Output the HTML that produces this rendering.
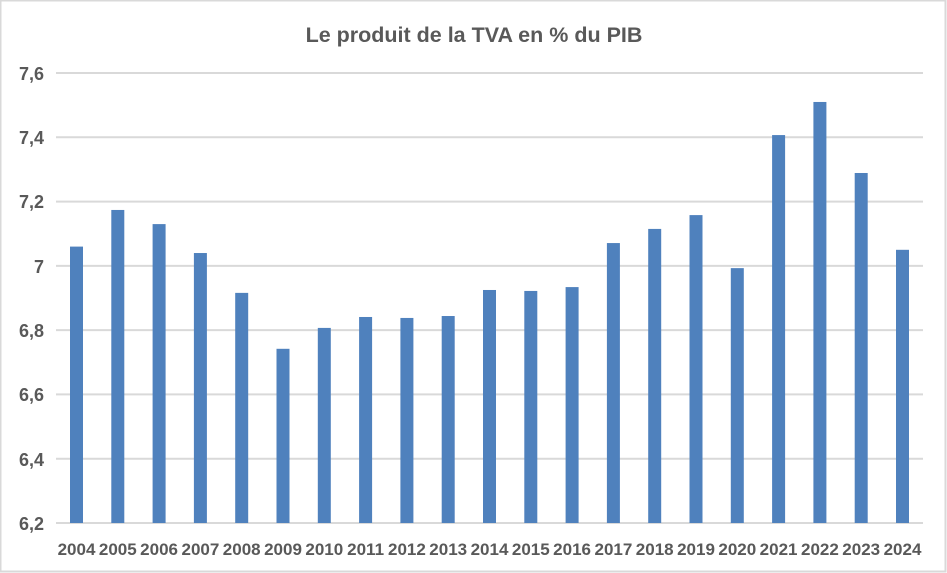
<!DOCTYPE html><html><head><style>body{margin:0;background:#fff}svg{display:block}</style></head><body>
<svg width="947" height="573" xmlns="http://www.w3.org/2000/svg" font-family="Liberation Sans, sans-serif">
<rect x="0.5" y="0.5" width="945" height="571" fill="#fff" stroke="#d9d9d9" stroke-width="2"/>
<text x="474" y="42" text-anchor="middle" font-size="21.5" font-weight="bold" fill="#595959">Le produit de la TVA en % du PIB</text>
<g stroke="#d9d9d9" stroke-width="2">
<line x1="56" x2="923" y1="73" y2="73"/><line x1="56" x2="923" y1="137.3" y2="137.3"/><line x1="56" x2="923" y1="201.6" y2="201.6"/><line x1="56" x2="923" y1="265.9" y2="265.9"/><line x1="56" x2="923" y1="330.1" y2="330.1"/><line x1="56" x2="923" y1="394.4" y2="394.4"/><line x1="56" x2="923" y1="458.7" y2="458.7"/><line x1="56" x2="923" y1="523" y2="523"/>
</g>
<g font-size="18" font-weight="bold" fill="#595959" text-anchor="end">
<text x="44" y="80">7,6</text><text x="44" y="144">7,4</text><text x="44" y="208">7,2</text><text x="44" y="273">7</text><text x="44" y="337">6,8</text><text x="44" y="401">6,6</text><text x="44" y="466">6,4</text><text x="44" y="530">6,2</text>
</g>
<g id="bars" fill="#4f81bd"></g>
<g id="lbl" font-size="17" font-weight="bold" fill="#595959" text-anchor="middle"></g>
<script>
var v=[7.06,7.174,7.13,7.04,6.916,6.742,6.807,6.841,6.838,6.844,6.925,6.922,6.934,7.071,7.115,7.158,6.993,7.407,7.51,7.289,7.05];
var b=document.getElementById('bars'),l=document.getElementById('lbl'),ns='http://www.w3.org/2000/svg';
v.forEach(function(d,i){var x=70+i*41.3,y=523-(d-6.2)*321.4;
var r=document.createElementNS(ns,'rect');r.setAttribute('x',x);r.setAttribute('y',y);r.setAttribute('width',13);r.setAttribute('height',523-y);b.appendChild(r);
var t=document.createElementNS(ns,'text');t.setAttribute('x',x+6.5);t.setAttribute('y',555);t.textContent=2004+i;l.appendChild(t);});
</script>
</svg></body></html>
